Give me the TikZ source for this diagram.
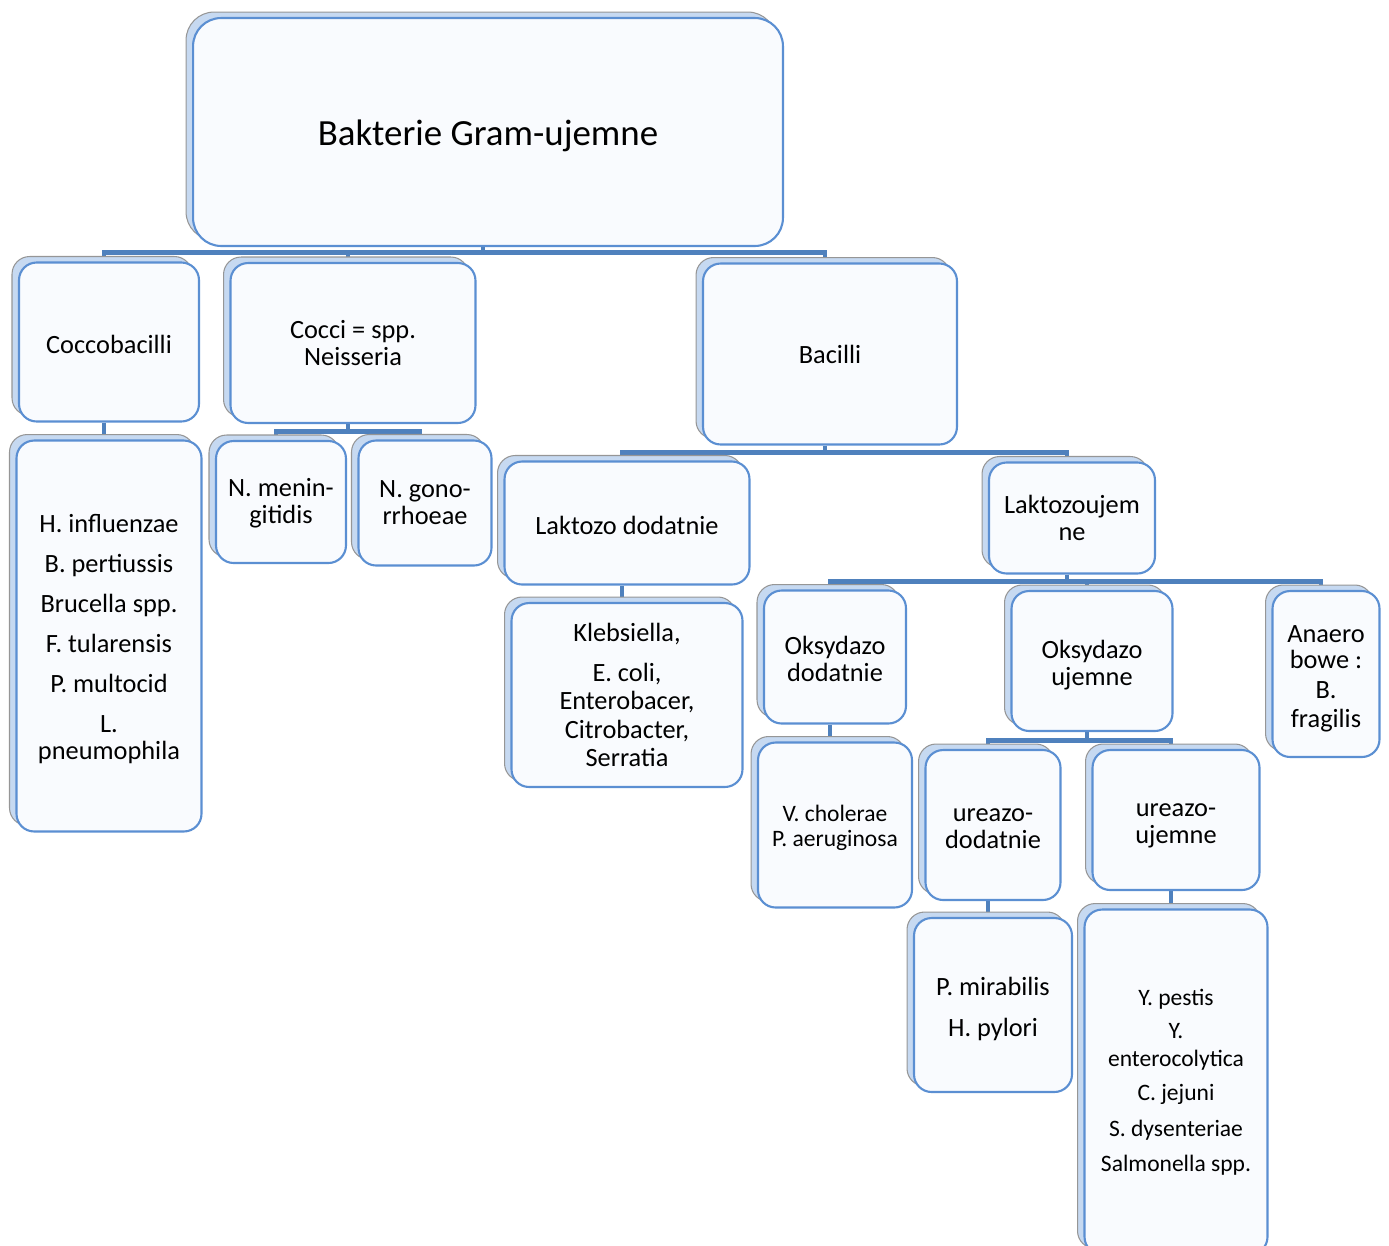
\documentclass[tikz,border=0pt]{standalone}
\usepackage{fontspec}
\setmainfont{Carlito}
\usepackage{tikz}
\usetikzlibrary{shadows,backgrounds}
\definecolor{linkblue}{RGB}{79,129,189}
\definecolor{edgeblue}{RGB}{91,143,210}
\definecolor{paleblue}{RGB}{198,217,241}
\definecolor{frontfill}{RGB}{249,251,254}
\definecolor{backedge}{RGB}{150,150,150}
\newcommand{\lift}[1]{\rule{0pt}{#1}}
\tikzset{
  card/.style={draw=edgeblue, line width=1.2pt, fill=frontfill, rounded corners=10pt,
               align=center, inner sep=2pt, font=\fontsize{15}{15.3}\selectfont,
               copy shadow={shadow xshift=-0.14cm, shadow yshift=0.12cm, fill=paleblue,
                            draw=backedge, line width=0.6pt}},
  topcard/.style={card, rounded corners=16pt, font=\fontsize{21}{25}\selectfont},
  smallcard/.style={card, font=\fontsize{13.4}{14.2}\selectfont},
  link/.style={draw=linkblue, line width=2.8pt}
}

\begin{document}
\begin{tikzpicture}[x=0.02cm, y=-0.02cm]
  \useasboundingbox (0,0) rectangle (1389,1245);
  \node[topcard, minimum width=11.8cm, minimum height=4.56cm] (root) at (488,132) {\lift{19pt}Bakterie Gram-ujemne};
  \node[card, minimum width=3.6cm, minimum height=3.18cm] (cocb) at (109,342) {\lift{12.7pt}Coccobacilli};
  \node[card, minimum width=4.9cm, minimum height=3.2cm] (cocci) at (353,343) {Cocci = spp.\\ Neisseria};
  \node[card, minimum width=5.08cm, minimum height=3.62cm] (bac) at (830,354) {Bacilli};
  \node[card, minimum width=3.7cm, minimum height=7.82cm] (hinf) at (109,636)
    {\lift{13.8pt}H. influenzae\\[7.4pt] B. pertiussis\\[7.4pt] Brucella spp.\\[7.4pt] F. tularensis\\[7.4pt] P. multocid\\[7.4pt] L.\\ pneumophila};
  \node[card, minimum width=2.6cm, minimum height=2.44cm] (nmen) at (281,502) {\lift{12pt}N. menin-\\ gitidis};
  \node[card, minimum width=2.66cm, minimum height=2.5cm] (ngon) at (425,503) {N. gono-\\ rrhoeae};
  \node[card, minimum width=4.9cm, minimum height=2.46cm] (laktd) at (627,523) {\lift{12.7pt}Laktozo dodatnie};
  \node[card, font=\fontsize{15}{16}\selectfont, minimum width=4.62cm, minimum height=3.68cm] (kleb) at (627,695)
    {Klebsiella,\\[6.7pt] E. coli,\\ Enterobacer,\\ Citrobacter,\\ Serratia};
  \node[card, minimum width=3.32cm, minimum height=2.22cm] (laktu) at (1072,518) {Laktozoujem\\ ne};
  \node[card, minimum width=2.84cm, minimum height=2.66cm] (oksd) at (835,657) {\lift{12.7pt}Oksydazo\\ dodatnie};
  \node[card, minimum width=3.22cm, minimum height=2.8cm] (oksu) at (1092,661) {\lift{14.9pt}Oksydazo\\ ujemne};
  \node[card, minimum width=2.14cm, minimum height=3.32cm] (anae) at (1326,674) {\lift{15.4pt}Anaero\\[-0.5pt] bowe :\\[1.5pt] B.\\[1.5pt] fragilis};
  \node[smallcard, minimum width=3.08cm, minimum height=3.3cm] (vchol) at (835,825) {\lift{12.7pt}V. cholerae\\ P. aeruginosa};
  \node[card, minimum width=2.7cm, minimum height=3cm] (ureud) at (993,825) {\lift{11.5pt}ureazo-\\ dodatnie};
  \node[card, minimum width=3.34cm, minimum height=2.8cm] (ureuu) at (1176,820) {\lift{13.8pt}ureazo-\\ ujemne};
  \node[card, minimum width=3.16cm, minimum height=3.48cm] (pmir) at (993,1005) {\lift{14.9pt}P. mirabilis\\[8pt] H. pylori};
  \node[smallcard, minimum width=3.66cm, minimum height=6.9cm] (ypes) at (1176,1082)
    {Y. pestis\\[5pt] Y.\\[1.5pt] enterocolytica\\[5pt] C. jejuni\\[6.5pt] S. dysenteriae\\[5.5pt] Salmonella spp.};
  \begin{scope}[on background layer]
    \draw[link] ([xshift=-1mm]root.south) -- ++(0,5) -| ([xshift=-1mm]cocb.north);
    \draw[link] ([xshift=-1mm]root.south) -- ++(0,5) -| ([xshift=-1mm]cocci.north);
    \draw[link] ([xshift=-1mm]root.south) -- ++(0,5) -| ([xshift=-1mm]bac.north);
    \draw[link] ([xshift=-1mm]cocb.south) -- ([xshift=-1mm]hinf.north);
    \draw[link] ([xshift=-1mm]cocci.south) -- ++(0,7) -| ([xshift=-1mm]nmen.north);
    \draw[link] ([xshift=-1mm]cocci.south) -- ++(0,7) -| ([xshift=-1mm]ngon.north);
    \draw[link] ([xshift=-1mm]bac.south) -- ++(0,7) -| ([xshift=-1mm]laktd.north);
    \draw[link] ([xshift=-1mm]bac.south) -- ++(0,7) -| ([xshift=-1mm]laktu.north);
    \draw[link] ([xshift=-1mm]laktd.south) -- ([xshift=-1mm]kleb.north);
    \draw[link] ([xshift=-1mm]laktu.south) -- ++(0,7) -| ([xshift=-1mm]oksd.north);
    \draw[link] ([xshift=-1mm]laktu.south) -- ++(0,7) -| ([xshift=-1mm]oksu.north);
    \draw[link] ([xshift=-1mm]laktu.south) -- ++(0,7) -| ([xshift=-1mm]anae.north);
    \draw[link] ([xshift=-1mm]oksd.south) -- ([xshift=-1mm]vchol.north);
    \draw[link] ([xshift=-1mm]oksu.south) -- ++(0,8) -| ([xshift=-1mm]ureud.north);
    \draw[link] ([xshift=-1mm]oksu.south) -- ++(0,8) -| ([xshift=-1mm]ureuu.north);
    \draw[link] ([xshift=-1mm]ureud.south) -- ([xshift=-1mm]pmir.north);
    \draw[link] ([xshift=-1mm]ureuu.south) -- ([xshift=-1mm]ypes.north);
  \end{scope}
\end{tikzpicture}
\end{document}
